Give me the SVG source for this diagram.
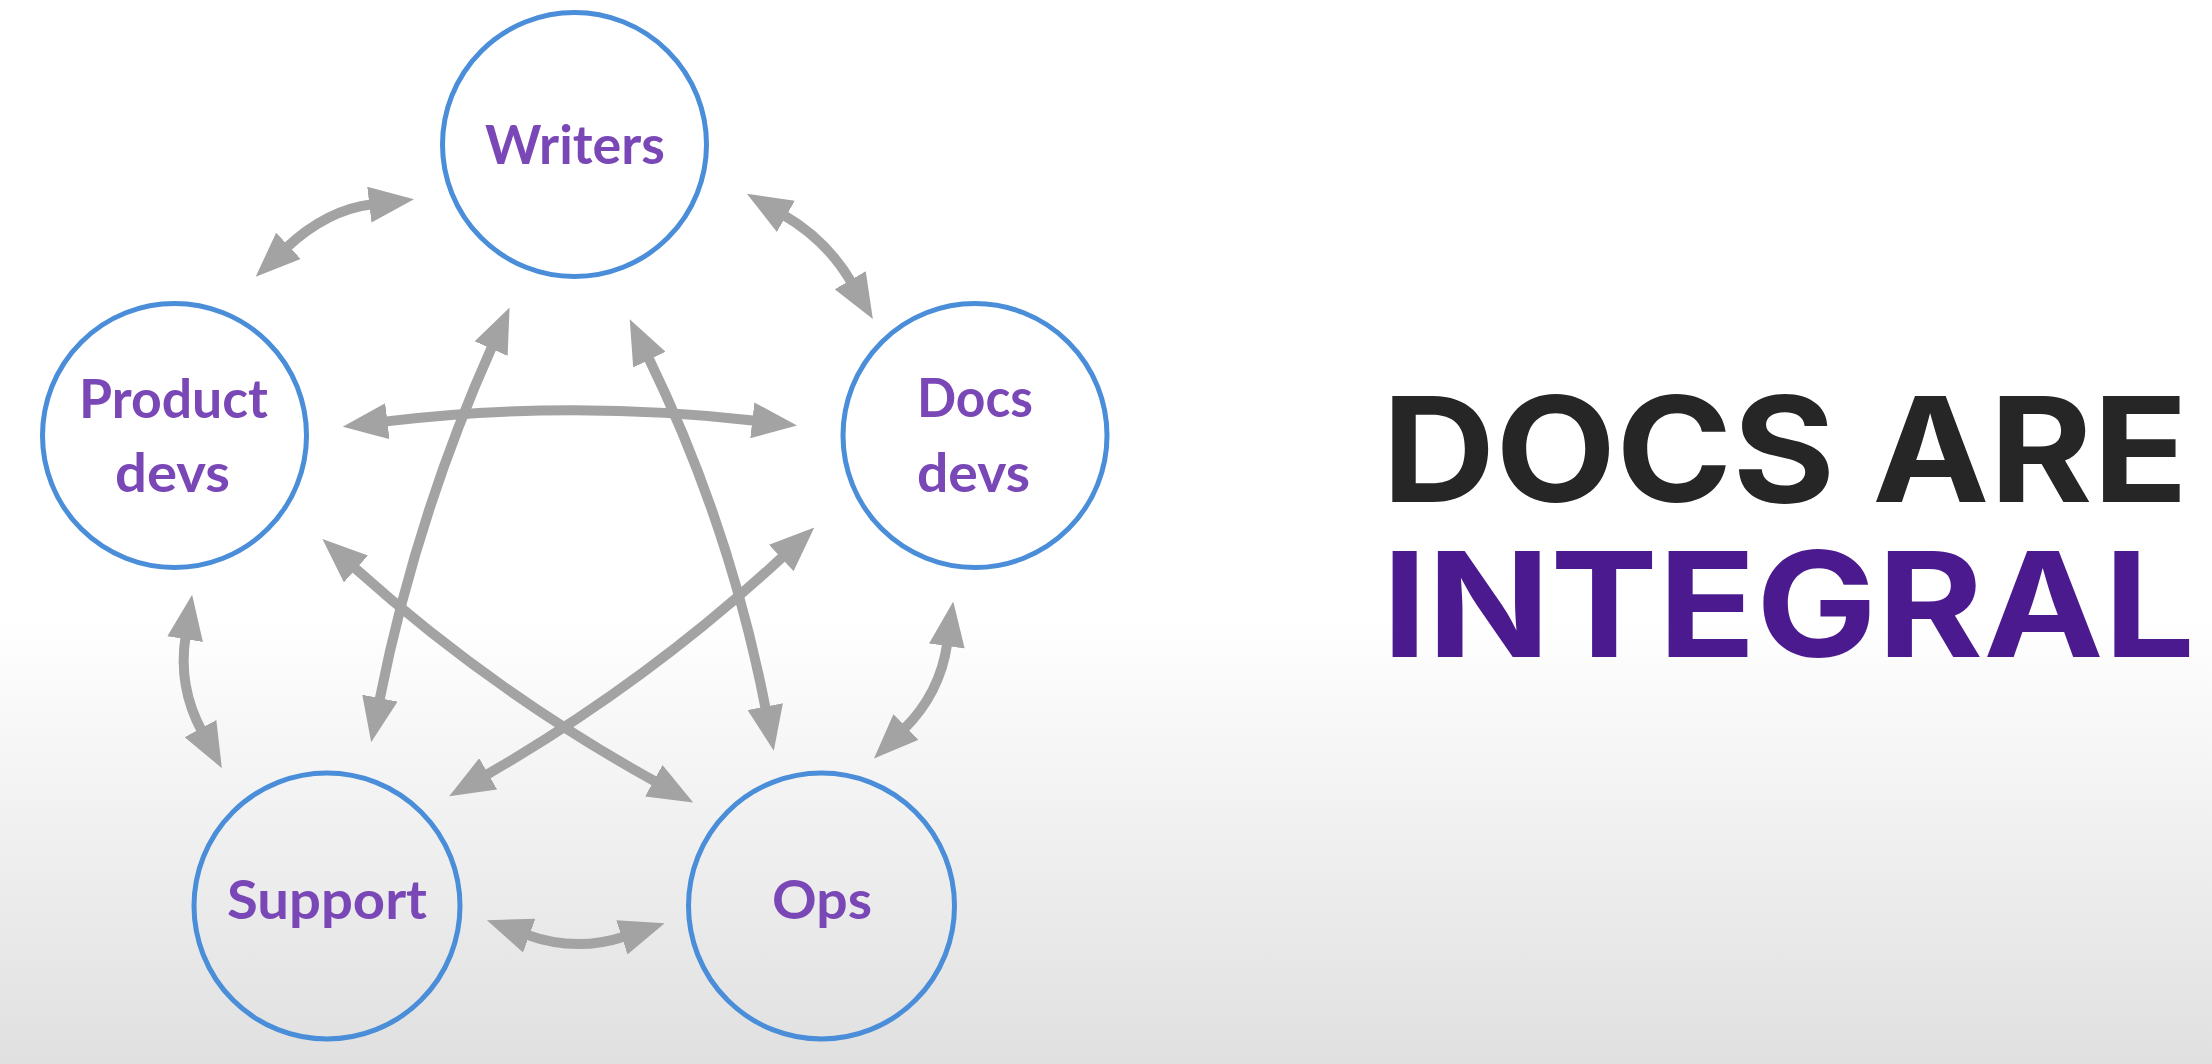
<svg xmlns="http://www.w3.org/2000/svg" width="2212" height="1064" viewBox="0 0 2212 1064">
  <defs>
    <linearGradient id="bg" x1="0" y1="0" x2="0" y2="1">
      <stop offset="0" stop-color="#ffffff"/>
      <stop offset="0.58" stop-color="#ffffff"/>
      <stop offset="1" stop-color="#e0e0e0"/>
    </linearGradient>
    <marker id="head" markerUnits="userSpaceOnUse" viewBox="0 -18 45 36" markerWidth="45" markerHeight="36" refX="3" refY="0" orient="auto-start-reverse">
      <path d="M0,-18 L45,0 L0,18 Z" fill="#a3a3a3"/>
    </marker>
  </defs>
  <style>
    .node circle { fill: none; stroke: #4a8dd8; stroke-width: 5; }
    .node text { font-family: Lato, "Noto Sans", "DejaVu Sans", sans-serif; font-weight: 700; font-size: 54px; fill: #7a48b6; text-anchor: middle; }
    .link { fill: none; stroke: #a3a3a3; stroke-width: 10; marker-start: url(#head); marker-end: url(#head); }
    .title { font-family: Inter, "Liberation Sans", sans-serif; font-weight: 700; font-size: 146px; }
  </style>

  <rect x="0" y="0" width="2212" height="1064" fill="url(#bg)"/>

  <!-- connectors: every pair of roles is linked both ways -->
  <g id="connectors">
    <path class="link" d="M372.3,204.3 Q327,209.7 286.3,247.9"/>
    <path class="link" d="M783.3,214.8 Q826.6,239.7 851.7,282.8"/>
    <path class="link" d="M384.4,421.6 Q569.9,399.2 755.3,420.7"/>
    <path class="link" d="M492.4,345.9 Q415.7,517.1 379.3,701.1"/>
    <path class="link" d="M648.1,357 Q730.1,525.5 765.8,709.5"/>
    <path class="link" d="M353.7,567 Q492.8,691.8 656.4,782.2"/>
    <path class="link" d="M783.5,556 Q647.1,682.6 485.6,775.3"/>
    <path class="link" d="M185.6,636.2 Q177.7,686.4 201.9,731.2"/>
    <path class="link" d="M947.3,643.1 Q940.1,693.4 903.9,729.1"/>
    <path class="link" d="M526.4,934.6 Q575.75,952.5 624.7,936.4"/>
  </g>

  <!-- roles -->
  <g id="writers" class="node">
    <circle cx="574.5" cy="144.5" r="132"/>
    <text x="575" y="164" textLength="180" lengthAdjust="spacingAndGlyphs">Writers</text>
  </g>
  <g id="product-devs" class="node">
    <circle cx="174.5" cy="435.5" r="132"/>
    <text x="173.5" y="418" textLength="189" lengthAdjust="spacingAndGlyphs">Product</text>
    <text x="172.5" y="492" textLength="115" lengthAdjust="spacingAndGlyphs">devs</text>
  </g>
  <g id="docs-devs" class="node">
    <circle cx="975" cy="435.5" r="132"/>
    <text x="975" y="417" textLength="116" lengthAdjust="spacingAndGlyphs">Docs</text>
    <text x="973.5" y="492" textLength="113" lengthAdjust="spacingAndGlyphs">devs</text>
  </g>
  <g id="support" class="node">
    <circle cx="327" cy="906" r="133"/>
    <text x="327" y="919" textLength="200" lengthAdjust="spacingAndGlyphs">Support</text>
  </g>
  <g id="ops" class="node">
    <circle cx="821.5" cy="906" r="133"/>
    <text x="822" y="919" textLength="100" lengthAdjust="spacingAndGlyphs">Ops</text>
  </g>

  <!-- headline -->
  <g id="headline">
    <text class="title" x="1382" y="502" fill="#262626" textLength="806" lengthAdjust="spacingAndGlyphs">DOCS ARE</text>
    <text class="title" x="1382" y="657" fill="#4b1a8f" textLength="813" lengthAdjust="spacingAndGlyphs">INTEGRAL</text>
  </g>
</svg>
